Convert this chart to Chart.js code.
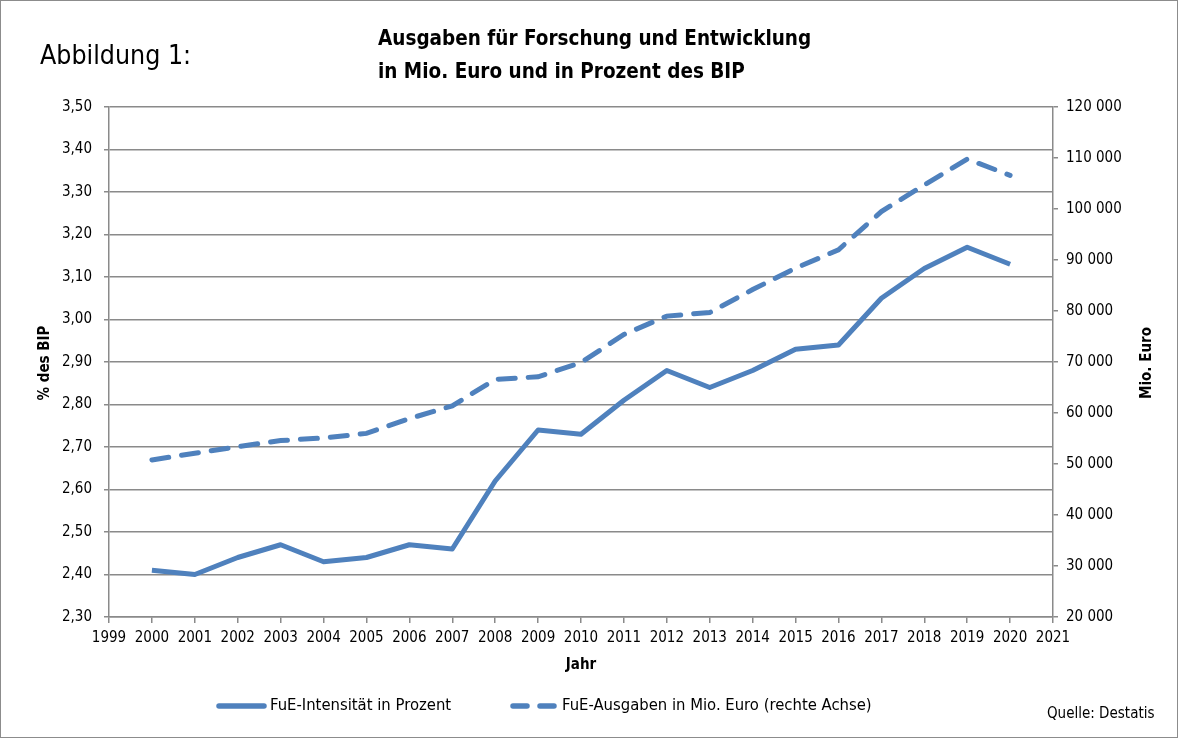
<!DOCTYPE html>
<html>
<head>
<meta charset="utf-8">
<script src="https://cdn.jsdelivr.net/npm/chart.js@4.4.0/dist/chart.umd.min.js"></script>
<style>
    html, body { margin: 0; padding: 0; background: #fff; }
    #wrap { position: relative; width: 1178px; height: 738px; box-sizing: border-box; border: 1px solid #8c8c8c; }
    canvas { display: block; }
</style>
</head>
<body>
<div id="wrap"><canvas id="chart" width="1176" height="736"></canvas></div>
<script>
// ============================================
// DATA
// ============================================
const years = [2000, 2001, 2002, 2003, 2004, 2005, 2006, 2007, 2008, 2009, 2010,
               2011, 2012, 2013, 2014, 2015, 2016, 2017, 2018, 2019, 2020];
const intensity = [2.41, 2.40, 2.44, 2.47, 2.43, 2.44, 2.47, 2.46, 2.62, 2.74, 2.73,
                   2.81, 2.88, 2.84, 2.88, 2.93, 2.94, 3.05, 3.12, 3.17, 3.13];
const spending = [50800, 52100, 53400, 54600, 55100, 56000, 58900, 61400, 66600, 67100, 69900,
                  75400, 79000, 79700, 84200, 88400, 92000, 99500, 104700, 109800, 106600];
const seriesNames = ['FuE-Intensität in Prozent', 'FuE-Ausgaben in Mio. Euro (rechte Achse)'];

const FONT = '"Liberation Sans Narrow", "DejaVu Sans Condensed", Arial, sans-serif';
const BLUE = '#4f81bd';
const GRID = '#8a8a8a';

function pts(vals) {
    return years.map((y, i) => ({ x: y, y: vals[i] }));
}

// texts, legend and frame drawn on top of the chart
const decorations = {
    id: 'decorations',
    afterDraw(chart) {
        const c = chart.ctx;
        c.save();
        c.fillStyle = '#000';
        c.textBaseline = 'middle';

        c.font = '26.5px ' + FONT;
        c.fillText('Abbildung 1:', 39, 56);

        c.font = 'bold 20.5px ' + FONT;
        c.fillText('Ausgaben für Forschung und Entwicklung', 377, 39);
        c.fillText('in Mio. Euro und in Prozent des BIP', 377, 72);

        c.font = 'bold 15px ' + FONT;
        c.textAlign = 'center';
        c.fillText('Jahr', 580, 664);

        c.save();
        c.translate(44, 362);
        c.rotate(-Math.PI / 2);
        c.fillText('% des BIP', 0, 0);
        c.restore();

        c.save();
        c.translate(1146, 362);
        c.rotate(-Math.PI / 2);
        c.fillText('Mio. Euro', 0, 0);
        c.restore();

        // legend
        c.textAlign = 'left';
        c.font = '16.5px ' + FONT;
        c.strokeStyle = BLUE;
        c.lineWidth = 5.5;
        c.lineCap = 'round';
        c.beginPath();
        c.moveTo(218, 705);
        c.lineTo(263, 705);
        c.stroke();
        c.fillText(seriesNames[0], 269, 705);

        c.setLineDash([14, 13]);
        c.beginPath();
        c.moveTo(512, 705);
        c.lineTo(553, 705);
        c.stroke();
        c.setLineDash([]);
        c.fillText(seriesNames[1], 561, 705);

        c.font = '15px ' + FONT;
        c.fillText('Quelle: Destatis', 1046, 713);
        c.restore();
    }
};

new Chart(document.getElementById('chart'), {
    type: 'line',
    data: {
        datasets: [{
            label: seriesNames[0],
            data: pts(intensity),
            yAxisID: 'y',
            borderColor: BLUE,
            borderWidth: 5,
            pointRadius: 0,
            tension: 0,
            borderJoinStyle: 'round'
        }, {
            label: seriesNames[1],
            data: pts(spending),
            yAxisID: 'y2',
            borderColor: BLUE,
            borderWidth: 5,
            borderDash: [17, 13],
            borderCapStyle: 'round',
            pointRadius: 0,
            tension: 0
        }]
    },
    options: {
        responsive: false,
        animation: false,
        layout: { padding: { top: 106, left: 0, right: 0, bottom: 0 } },
        plugins: {
            legend: { display: false },
            tooltip: { enabled: false }
        },
        scales: {
            x: {
                type: 'linear',
                min: 1999,
                max: 2021,
                afterFit(s) { s.height = 120; },
                grid: { drawOnChartArea: false, drawTicks: true, tickLength: 6, color: GRID, lineWidth: 1.5 },
                border: { color: GRID, width: 1.5 },
                ticks: {
                    stepSize: 1,
                    padding: 6,
                    color: '#000',
                    font: { family: FONT, size: 15 },
                    maxRotation: 0,
                    autoSkip: false,
                    callback: v => String(v)
                }
            },
            y: {
                position: 'left',
                min: 2.3,
                max: 3.5,
                afterFit(s) { s.width = 108; },
                grid: { color: GRID, lineWidth: 1.5, tickLength: 5 },
                border: { color: GRID, width: 1.5 },
                ticks: {
                    stepSize: 0.1,
                    padding: 12,
                    color: '#000',
                    font: { family: FONT, size: 15 },
                    callback: v => v.toFixed(2).replace('.', ',')
                }
            },
            y2: {
                position: 'right',
                min: 20000,
                max: 120000,
                afterFit(s) { s.width = 124; },
                grid: { drawOnChartArea: false, tickLength: 5, color: GRID, lineWidth: 1.5 },
                border: { color: GRID, width: 1.5 },
                ticks: {
                    stepSize: 10000,
                    padding: 8,
                    color: '#000',
                    font: { family: FONT, size: 15 },
                    callback: v => String(v).replace(/\B(?=(\d{3})+(?!\d))/g, ' ')
                }
            }
        }
    },
    plugins: [decorations]
});
</script>
</body>
</html>
